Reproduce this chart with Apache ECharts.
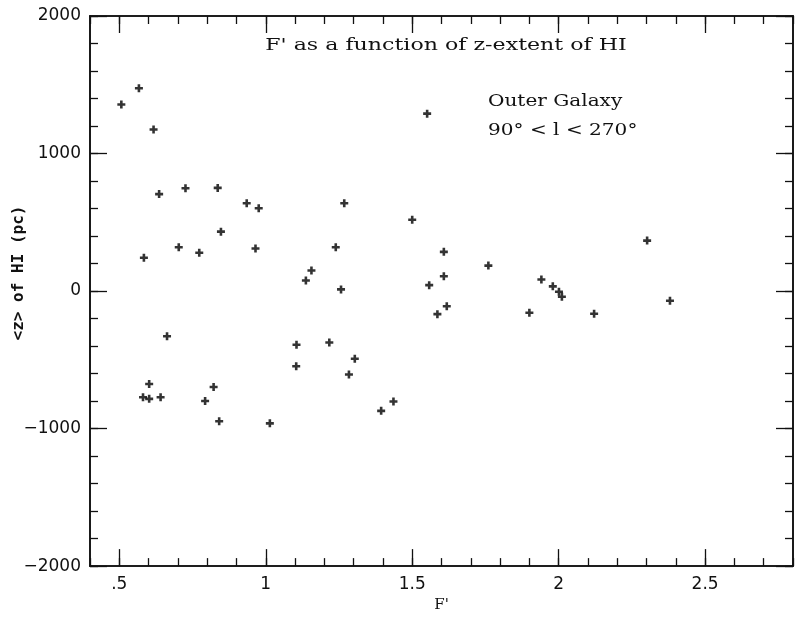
<!DOCTYPE html>
<html><head><meta charset="utf-8">
<script src="https://cdn.jsdelivr.net/npm/echarts@6/dist/echarts.min.js"></script>
<style>html,body{margin:0;padding:0;background:#fff}#c{width:798px;height:618px}</style>
</head><body><div id="c"></div>
<script>
const fValues = [0.507,0.567,0.617,0.636,0.726,0.836,0.935,0.976,0.847,0.703,0.773,0.965,0.584,
  0.663,0.602,0.822,0.581,0.602,0.641,0.793,0.841,1.014,
  1.551,1.268,1.500,1.239,1.608,1.156,1.137,1.257,1.608,1.558,1.618,1.586,
  1.105,1.217,1.104,1.304,1.284,1.436,1.394,
  1.760,2.302,1.941,1.980,2.001,2.011,1.900,2.121,2.380];
const zValues = [1357,1475,1175,705,748,750,638,602,432,319,278,309,242,
  -329,-676,-698,-772,-784,-772,-799,-947,-962,
  1290,638,518,319,285,149,77,12,108,43,-110,-168,
  -391,-374,-547,-492,-607,-803,-871,
  185,367,84,34,-5,-41,-158,-165,-70];
const xMajorTicks = [0.5,1,1.5,2,2.5];
const xMinorTicks = [0.4,0.5,0.6,0.7,0.8,0.9,1.0,1.1,1.2,1.3,1.4,1.5,1.6,1.7,1.8,1.9,2.0,2.1,2.2,2.3,2.4,2.5,2.6,2.7,2.8];
const yMajorTicks = [-2000,-1000,0,1000,2000];
const yMinorTicks = [-2000,-1800,-1600,-1400,-1200,-1000,-800,-600,-400,-200,0,200,400,600,800,1000,1200,1400,1600,1800,2000];
const titleText = "F' as a function of z-extent of HI";
const noteLine1 = "Outer Galaxy";
const noteLine2 = "90\u00B0 < l < 270\u00B0";
const xName = "F'";
const yName = "<z> of HI (pc)";

const chart = echarts.init(document.getElementById('c'));
const ink = '#111';
const lineS = {show:true, onZero:false, lineStyle:{color:ink, width:1.6}};
const tickFont = {color:ink, fontSize:17, fontFamily:'DejaVu Sans'};
function xAx(pos, vals, len, labels){
  return {type:'value', position:pos, min:0.4, max:2.8, gridIndex:0,
    axisLine: lineS, splitLine:{show:false},
    axisTick:{show:true, inside:true, length:len, customValues:vals, lineStyle:{color:ink,width:1.3}},
    axisLabel: labels ? Object.assign({show:true, customValues:xMajorTicks, margin:10,
       formatter: v => { const s = String(+v.toFixed(2)); return s.startsWith('0.') ? s.slice(1) : s; }}, tickFont) : {show:false},
    name: labels ? xName : '', nameLocation:'middle', nameGap:31,
    nameTextStyle:{color:ink, fontSize:15, fontFamily:'DejaVu Serif'}};
}
function yAx(pos, vals, len, labels){
  return {type:'value', position:pos, min:-2000, max:2000, gridIndex:0,
    axisLine: lineS, splitLine:{show:false},
    axisTick:{show:true, inside:true, length:len, customValues:vals, lineStyle:{color:ink,width:1.3}},
    axisLabel: labels ? Object.assign({show:true, customValues:yMajorTicks, margin:9,
       formatter: v => String(v).replace('-', '\u2212')}, tickFont) : {show:false}};
}
chart.setOption({
  animation:false,
  backgroundColor:'#fff',
  grid:{left:90, right:5, top:16, bottom:44},
  xAxis:[xAx('bottom', xMajorTicks, 17, true), xAx('bottom', xMinorTicks, 8, false),
         xAx('top', xMajorTicks, 17, false), xAx('top', xMinorTicks, 8, false)],
  yAxis:[yAx('left', yMajorTicks, 17, true), yAx('left', yMinorTicks, 8, false),
         yAx('right', yMajorTicks, 17, false), yAx('right', yMinorTicks, 8, false)],
  series:[{type:'scatter', xAxisIndex:0, yAxisIndex:0,
    data: fValues.map((f,i)=>[f, zValues[i]]),
    symbol:'path://M-1.3,-4h2.6v2.7h2.7v2.6h-2.7v2.7h-2.6v-2.7h-2.7v-2.6h2.7z', symbolSize:8,
    itemStyle:{color:'#000'}}],
  graphic:[
    {type:'text', x:446, y:46, scaleX:1.3, style:{text:titleText, fill:ink, font:'17px "DejaVu Serif"', align:'center', verticalAlign:'middle'}},
    {type:'text', x:488, y:102, scaleX:1.18, style:{text:noteLine1, fill:ink, font:'17px "DejaVu Serif"', align:'left', verticalAlign:'middle'}},
    {type:'text', x:488, y:131, scaleX:1.18, style:{text:noteLine2, fill:ink, font:'17px "DejaVu Serif"', align:'left', verticalAlign:'middle'}},
    {type:'text', x:19, y:273, rotation:Math.PI/2,
     style:{text:yName, fill:ink, font:'bold 16px "DejaVu Sans Mono"', align:'center', verticalAlign:'middle'}}
  ]
});
</script></body></html>
